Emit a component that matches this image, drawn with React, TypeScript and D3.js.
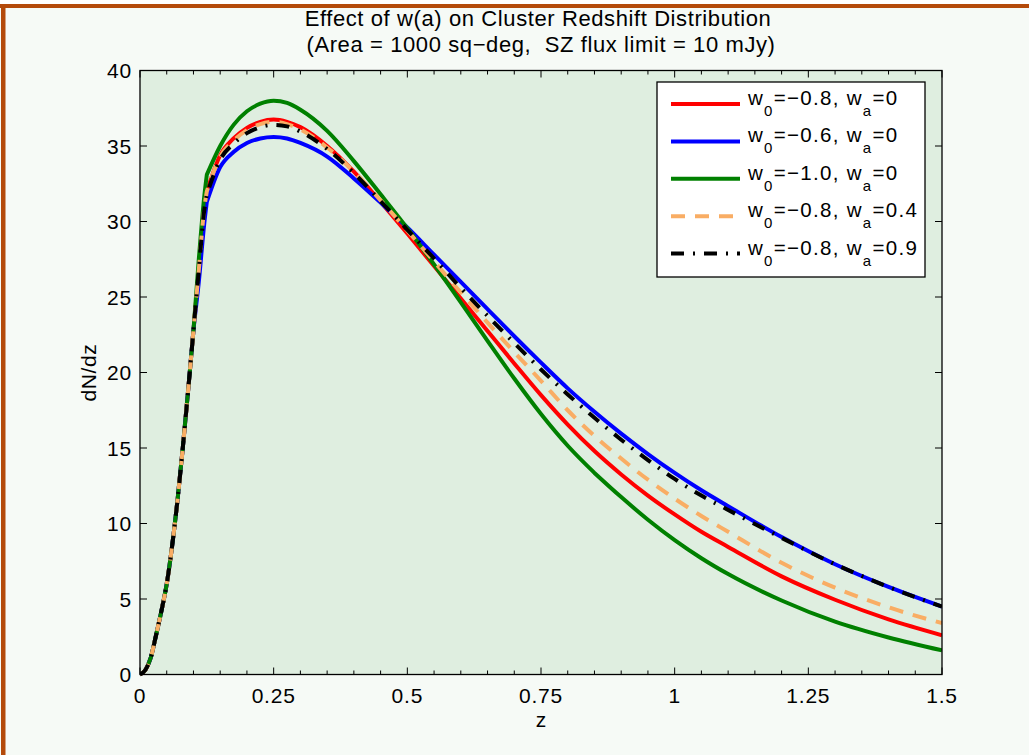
import React from "react";
import * as d3 from "d3";

const zGrid = [0, 0.01, 0.02, 0.03, 0.04, 0.05, 0.06, 0.07, 0.08, 0.09, 0.1, 0.11, 0.12, 0.125, 0.15, 0.175, 0.2, 0.225, 0.25, 0.275, 0.3, 0.35, 0.4, 0.45, 0.5, 0.55, 0.6, 0.65, 0.7, 0.75, 0.8, 0.85, 0.9, 0.95, 1.0, 1.05, 1.1, 1.2, 1.3, 1.4, 1.5];

const riseCommon = [0, 0.3, 1.1, 2.6, 4.2, 6.0, 8.5, 11.5, 15.0, 18.8, 22.8];

const redW08 = [...riseCommon, 26.8, 30.8, 32.0, 34.4, 35.5, 36.2, 36.6, 36.75, 36.6, 36.25, 35.0, 33.3, 31.3, 29.2, 27.05, 24.9, 22.75, 20.6, 18.5, 16.55, 14.8, 13.25, 11.85, 10.6, 9.45, 8.45, 6.5, 4.95, 3.65, 2.6];
const blueW06 = [...riseCommon, 26.0, 29.8, 31.3, 33.6, 34.6, 35.2, 35.5, 35.6, 35.5, 35.2, 34.3, 32.85, 31.25, 29.6, 27.8, 26.0, 24.2, 22.4, 20.65, 18.95, 17.4, 15.95, 14.6, 13.35, 12.2, 11.15, 9.1, 7.3, 5.8, 4.5];
const greenW10 = [...riseCommon, 27.5, 31.6, 33.1, 35.0, 36.4, 37.3, 37.8, 38.0, 37.85, 37.4, 36.0, 34.0, 31.8, 29.55, 27.15, 24.65, 22.1, 19.6, 17.25, 15.15, 13.35, 11.75, 10.25, 8.9, 7.7, 6.65, 4.9, 3.5, 2.45, 1.6];
const orangeWa04 = [...riseCommon, 26.8, 30.8, 32.0, 34.3, 35.35, 36.05, 36.45, 36.6, 36.45, 36.1, 34.9, 33.3, 31.4, 29.4, 27.35, 25.3, 23.3, 21.35, 19.45, 17.5, 15.8, 14.3, 12.9, 11.65, 10.5, 9.45, 7.4, 5.75, 4.45, 3.4];
const blackWa09 = [...riseCommon, 26.8, 30.7, 31.8, 34.1, 35.15, 35.85, 36.25, 36.4, 36.3, 35.95, 34.8, 33.2, 31.35, 29.45, 27.55, 25.6, 23.75, 21.95, 20.2, 18.55, 17.0, 15.55, 14.2, 12.95, 11.85, 10.9, 9.05, 7.3, 5.8, 4.5];

// z values where a curve has a sharp bend
const kinkZ = [[0.125], [0.125], [0.125, 0.85], [0.125], [0.125]];

const seriesNames = [
  ["0", "−0.8", "0"],
  ["0", "−0.6", "0"],
  ["0", "−1.0", "0"],
  ["0", "−0.8", "0.4"],
  ["0", "−0.8", "0.9"],
];
const seriesValues = [redW08, blueW06, greenW10, orangeWa04, blackWa09];
const seriesColors = ["#ff0000", "#0000ff", "#008000", "#f9ad64", "#000000"];
const seriesDash = ["none", "none", "none", "14,10", "13,9,2,9"];

const xMajorTicks = [0, 0.25, 0.5, 0.75, 1, 1.25, 1.5];
const xTickLabels = ["0", "0.25", "0.5", "0.75", "1", "1.25", "1.5"];
const yTicks = [0, 5, 10, 15, 20, 25, 30, 35, 40];

const titleLines = ["Effect of w(a) on Cluster Redshift Distribution", "(Area = 1000 sq−deg,  SZ flux limit = 10 mJy)"];

const FONT = "'Liberation Sans', Arial, Helvetica, sans-serif";

export default function App() {
  const W = 1029, H = 755;
  const L = 140, R = 942, T = 70.5, B = 674.5;
  const x = d3.scaleLinear().domain([0, 1.5]).range([L, R]);
  const y = d3.scaleLinear().domain([0, 40]).range([B, T]);
  const minor = d3.range(0, 1.5001, 0.05);
  const line = d3.line<[number, number]>().x((d) => x(d[0])).y((d) => y(d[1])).curve(d3.curveMonotoneX);

  const buildPath = (vals: number[], kinks: number[]) => {
    const pts: [number, number][] = vals.map((v, i) => [zGrid[i], v]);
    const cuts = kinks.map((k) => zGrid.findIndex((z) => Math.abs(z - k) < 1e-9));
    const bounds = [0, ...cuts, pts.length - 1];
    let d = "";
    for (let s = 0; s < bounds.length - 1; s++) {
      const seg = line(pts.slice(bounds[s], bounds[s + 1] + 1)) || "";
      d += s === 0 ? seg : "L" + seg.slice(1);
    }
    return d;
  };

  const legX0 = 657, legY0 = 82, legW = 268, legH = 195;
  const rowY = (i: number) => 104 + i * 37.4;

  return (
    <div style={{ position: "absolute", left: 0, top: 0 }}>
      <svg width={W} height={H} style={{ display: "block", fontFamily: FONT }}>
        <rect x={0} y={0} width={W} height={H} fill="#f6faf6" />
        <rect x={0} y={0} width={W} height={4} fill="#ffffff" />
        <rect x={0} y={4} width={W} height={4} fill="#b44a0a" />
        <rect x={1} y={4} width={4.5} height={H - 4} fill="#b44a0a" />
        <rect x={L} y={T} width={R - L} height={B - T} fill="#dfeee0" />
        <defs>
          <clipPath id="plotclip">
            <rect x={L} y={T - 2} width={R - L} height={B - T + 4} />
          </clipPath>
        </defs>
        <g clipPath="url(#plotclip)">
          {seriesValues.map((vals, i) => (
            <path key={i} d={buildPath(vals, kinkZ[i])} fill="none" stroke={seriesColors[i]} strokeWidth={4}
              strokeDasharray={seriesDash[i]} strokeLinejoin="round" />
          ))}
        </g>
        <g stroke="#000" strokeWidth={1}>
          {minor.map((t, i) => {
            const isMajor = Math.abs(t / 0.25 - Math.round(t / 0.25)) < 1e-6;
            const len = isMajor ? 7 : 4;
            return (
              <g key={i}>
                <line x1={x(t)} x2={x(t)} y1={B} y2={B - len} />
                <line x1={x(t)} x2={x(t)} y1={T} y2={T + len} />
              </g>
            );
          })}
          {yTicks.map((t) => (
            <g key={t}>
              <line x1={L} x2={L + 7} y1={y(t)} y2={y(t)} />
              <line x1={R} x2={R - 7} y1={y(t)} y2={y(t)} />
            </g>
          ))}
        </g>
        <rect x={L} y={T} width={R - L} height={B - T} fill="none" stroke="#000" strokeWidth={1.3} />
        <g fontSize={21} fill="#000" letterSpacing={0.8}>
          {xMajorTicks.map((t, i) => (
            <text key={t} x={x(t)} y={703} textAnchor="middle">{xTickLabels[i]}</text>
          ))}
          {yTicks.map((t) => (
            <text key={t} x={132} y={y(t) + 7.5} textAnchor="end">{t}</text>
          ))}
        </g>
        <text x={(L + R) / 2} y={727} textAnchor="middle" fontSize={21}>z</text>
        <text transform={`translate(96,${(T + B) / 2}) rotate(-90)`} textAnchor="middle" fontSize={21} letterSpacing={0.6}>dN/dz</text>
        <g fontSize={22} textAnchor="middle" letterSpacing={0.6}>
          <text x={(L + R) / 2 - 3} y={26}>{titleLines[0]}</text>
          <text x={(L + R) / 2} y={52} style={{ whiteSpace: "pre" }}>{titleLines[1]}</text>
        </g>
        <rect x={legX0} y={legY0} width={legW} height={legH} fill="#ffffff" stroke="#000" strokeWidth={1.3} />
        {seriesNames.map((nm, i) => (
          <g key={i}>
            <line x1={671} x2={740} y1={rowY(i)} y2={rowY(i)} stroke={seriesColors[i]} strokeWidth={4}
              strokeDasharray={seriesDash[i]} />
            <text x={748} y={rowY(i) + 1} fontSize={20.5} letterSpacing={1.3}>
              <tspan>w</tspan>
              <tspan fontSize={15} dy={11}>{nm[0]}</tspan>
              <tspan dy={-11}>{"=" + nm[1] + ", w"}</tspan>
              <tspan fontSize={15} dy={11}>a</tspan>
              <tspan dy={-11}>{"=" + nm[2]}</tspan>
            </text>
          </g>
        ))}
      </svg>
    </div>
  );
}
